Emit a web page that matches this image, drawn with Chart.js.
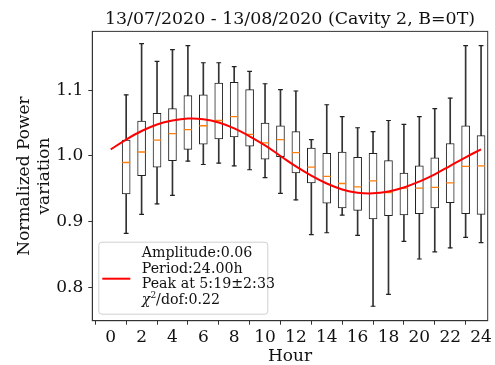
<!DOCTYPE html>
<html>
<head>
<meta charset="utf-8">
<script src="https://cdn.jsdelivr.net/npm/chart.js@4.4.0/dist/chart.umd.min.js"></script>
<style>
  body { margin: 0; background: #fff; }
</style>
</head>
<body>
<canvas id="myChart" width="495" height="365"></canvas>
<script>
// box plot per hour
const hours = [1, 2, 3, 4, 5, 6, 7, 8, 9, 10, 11, 12, 13, 14, 15, 16, 17, 18, 19, 20, 21, 22, 23, 24];
const whiskerLow = [0.882, 0.911, 0.927, 0.940, 0.992, 0.987, 0.989, 0.985, 0.979, 0.967, 0.943, 0.933,
                    0.880, 0.883, 0.910, 0.879, 0.771, 0.789, 0.870, 0.843, 0.854, 0.860, 0.876, 0.868];
const q1 = [0.942, 0.970, 0.983, 0.993, 1.010, 1.018, 1.026, 1.029, 1.015, 0.995, 0.999, 0.974,
            0.959, 0.928, 0.921, 0.917, 0.904, 0.909, 0.910, 0.912, 0.921, 0.929, 0.912, 0.911];
const median = [0.990, 1.006, 1.024, 1.034, 1.040, 1.046, 1.054, 1.060, 1.033, 1.020, 1.025, 1.005,
                0.983, 0.969, 0.958, 0.953, 0.962, 0.944, 0.951, 0.951, 0.952, 0.959, 0.984, 0.985];
const q3 = [1.024, 1.053, 1.065, 1.072, 1.092, 1.093, 1.111, 1.112, 1.101, 1.050, 1.046, 1.037,
            1.012, 1.004, 1.006, 0.998, 1.004, 0.993, 0.974, 0.985, 0.997, 1.019, 1.046, 1.031];
const whiskerHigh = [1.093, 1.171, 1.144, 1.162, 1.168, 1.142, 1.142, 1.136, 1.129, 1.110, 1.101, 1.099,
                     1.025, 1.078, 1.060, 1.043, 1.037, 1.054, 1.048, 1.060, 1.072, 1.088, 1.168, 1.168];

// red fit curve
const fitHours = [0, 1, 2, 3, 4, 5, 6, 7, 8, 9, 10, 11, 12, 13, 14, 15, 16, 17, 18, 19, 20, 21, 22, 23, 24];
const fitValues = [1.010, 1.025, 1.038, 1.048, 1.054, 1.057, 1.056, 1.051, 1.042, 1.030, 1.016, 1.000,
                   0.984, 0.970, 0.958, 0.949, 0.944, 0.943, 0.946, 0.952, 0.961, 0.972, 0.985, 0.998, 1.010];

const xTicks = [0, 2, 4, 6, 8, 10, 12, 14, 16, 18, 20, 22, 24];
const yTicks = [0.8, 0.9, 1.0, 1.1];

const legendLines = ['Amplitude:0.06', 'Period:24.00h', 'Peak at 5:19\u00b12:33', '/dof:0.22'];

const serif = "'DejaVu Serif', serif";
const legendSize = 14.2;

const frameAndLegend = {
  id: 'frameAndLegend',
  afterDraw(chart) {
    const ctx = chart.ctx;
    const a = chart.chartArea;
    ctx.save();
    ctx.strokeStyle = '#333';
    ctx.lineWidth = 1;
    ctx.strokeRect(a.left, a.top, a.right - a.left, a.bottom - a.top);

    // legend box
    const bx = a.left + 6.5, by = a.bottom - 78.5, bw = 169, bh = 72;
    ctx.beginPath();
    ctx.roundRect(bx, by, bw, bh, 3);
    ctx.fillStyle = 'rgba(255,255,255,0.8)';
    ctx.fill();
    ctx.strokeStyle = '#d0d0d0';
    ctx.stroke();

    ctx.strokeStyle = 'red';
    ctx.lineWidth = 2;
    ctx.beginPath();
    ctx.moveTo(bx + 3.5, by + 36.5);
    ctx.lineTo(bx + 31.5, by + 36.5);
    ctx.stroke();

    ctx.fillStyle = '#111';
    ctx.textBaseline = 'middle';
    ctx.font = legendSize + 'px ' + serif;
    const tx = bx + 43;
    legendLines.forEach((t, i) => {
      const ty = by + 11.5 + i * 15.5;
      if (i === 3) {
        ctx.font = 'italic ' + legendSize + 'px ' + serif;
        ctx.fillText('\u03c7', tx, ty);
        const w = ctx.measureText('\u03c7').width;
        ctx.font = '9px ' + serif;
        ctx.fillText('2', tx + w, ty - 4.5);
        const w2 = ctx.measureText('2').width;
        ctx.font = legendSize + 'px ' + serif;
        ctx.fillText(t, tx + w + w2, ty);
      } else {
        ctx.fillText(t, tx, ty);
      }
    });
    ctx.restore();
  }
};

const ctx = document.getElementById('myChart').getContext('2d');

const myChart = new Chart(ctx, {
  type: 'bar',
  data: {
    datasets: [
      {
        type: 'line',
        label: 'fit',
        data: fitHours.map((h, i) => ({ x: h, y: fitValues[i] })),
        borderColor: 'red',
        borderWidth: 2,
        pointRadius: 0,
        tension: 0.4,
        order: 0
      },
      {
        type: 'line',
        label: 'median',
        data: hours.map((h, i) => ({ x: h, y: median[i] })),
        showLine: false,
        pointStyle: 'line',
        pointRadius: 4,
        borderColor: '#ff7f0e',
        borderWidth: 1.3,
        order: 1
      },
      {
        type: 'bar',
        label: 'box',
        data: hours.map((h, i) => ({ x: h, y: [q1[i], q3[i]] })),
        backgroundColor: '#fff',
        borderColor: '#222',
        borderWidth: 1,
        borderSkipped: false,
        barThickness: 8,
        grouped: false,
        order: 2
      },
      {
        type: 'line',
        label: 'caps',
        data: hours.map((h, i) => ({ x: h, y: whiskerLow[i] }))
          .concat(hours.map((h, i) => ({ x: h, y: whiskerHigh[i] }))),
        showLine: false,
        pointStyle: 'line',
        pointRadius: 2.4,
        borderColor: '#222',
        borderWidth: 1.2,
        order: 3
      },
      {
        type: 'bar',
        label: 'whisker',
        data: hours.map((h, i) => ({ x: h, y: [whiskerLow[i], whiskerHigh[i]] })),
        backgroundColor: '#333',
        borderWidth: 0,
        barThickness: 1,
        grouped: false,
        order: 4
      }
    ]
  },
  options: {
    responsive: false,
    animation: false,
    layout: { padding: { left: 0, right: 2, top: 0, bottom: 0 } },
    plugins: {
      legend: { display: false },
      tooltip: { enabled: false },
      title: {
        display: true,
        fullSize: false,
        text: '13/07/2020 - 13/08/2020 (Cavity 2, B=0T)',
        color: '#111',
        font: { family: serif, size: 17.4, weight: 'normal', lineHeight: 1.2 },
        padding: { top: 9, bottom: 1.5 }
      }
    },
    scales: {
      x: {
        type: 'linear',
        min: -1.195,
        max: 24.43,
        offset: false,
        afterBuildTicks: (scale) => { scale.ticks = xTicks.map(v => ({ value: v })); },
        afterFit: (scale) => { scale.height = 44.3; },
        grid: { drawOnChartArea: false, drawTicks: true, tickLength: 4, color: '#333' },
        border: { color: '#333' },
        ticks: { color: '#111', font: { family: serif, size: 17 }, padding: 3, maxRotation: 0, autoSkip: false },
        title: { display: true, text: 'Hour', color: '#111', font: { family: serif, size: 17, lineHeight: 1.0 }, padding: { top: 0, bottom: 0 } }
      },
      y: {
        type: 'linear',
        min: 0.749,
        max: 1.1898,
        afterBuildTicks: (scale) => { scale.ticks = yTicks.map(v => ({ value: v })); },
        afterFit: (scale) => { scale.width = 92.3; },
        grid: { drawOnChartArea: false, drawTicks: true, tickLength: 4, color: '#333' },
        border: { color: '#333' },
        ticks: { color: '#111', font: { family: serif, size: 17 }, padding: 5, callback: (v) => v.toFixed(1) },
        title: { display: true, text: ['Normalized Power', 'variation'], color: '#111', font: { family: serif, size: 17, lineHeight: 1.15 }, padding: { top: 15, bottom: 0 } }
      }
    }
  },
  plugins: [frameAndLegend]
});
</script>
</body>
</html>
